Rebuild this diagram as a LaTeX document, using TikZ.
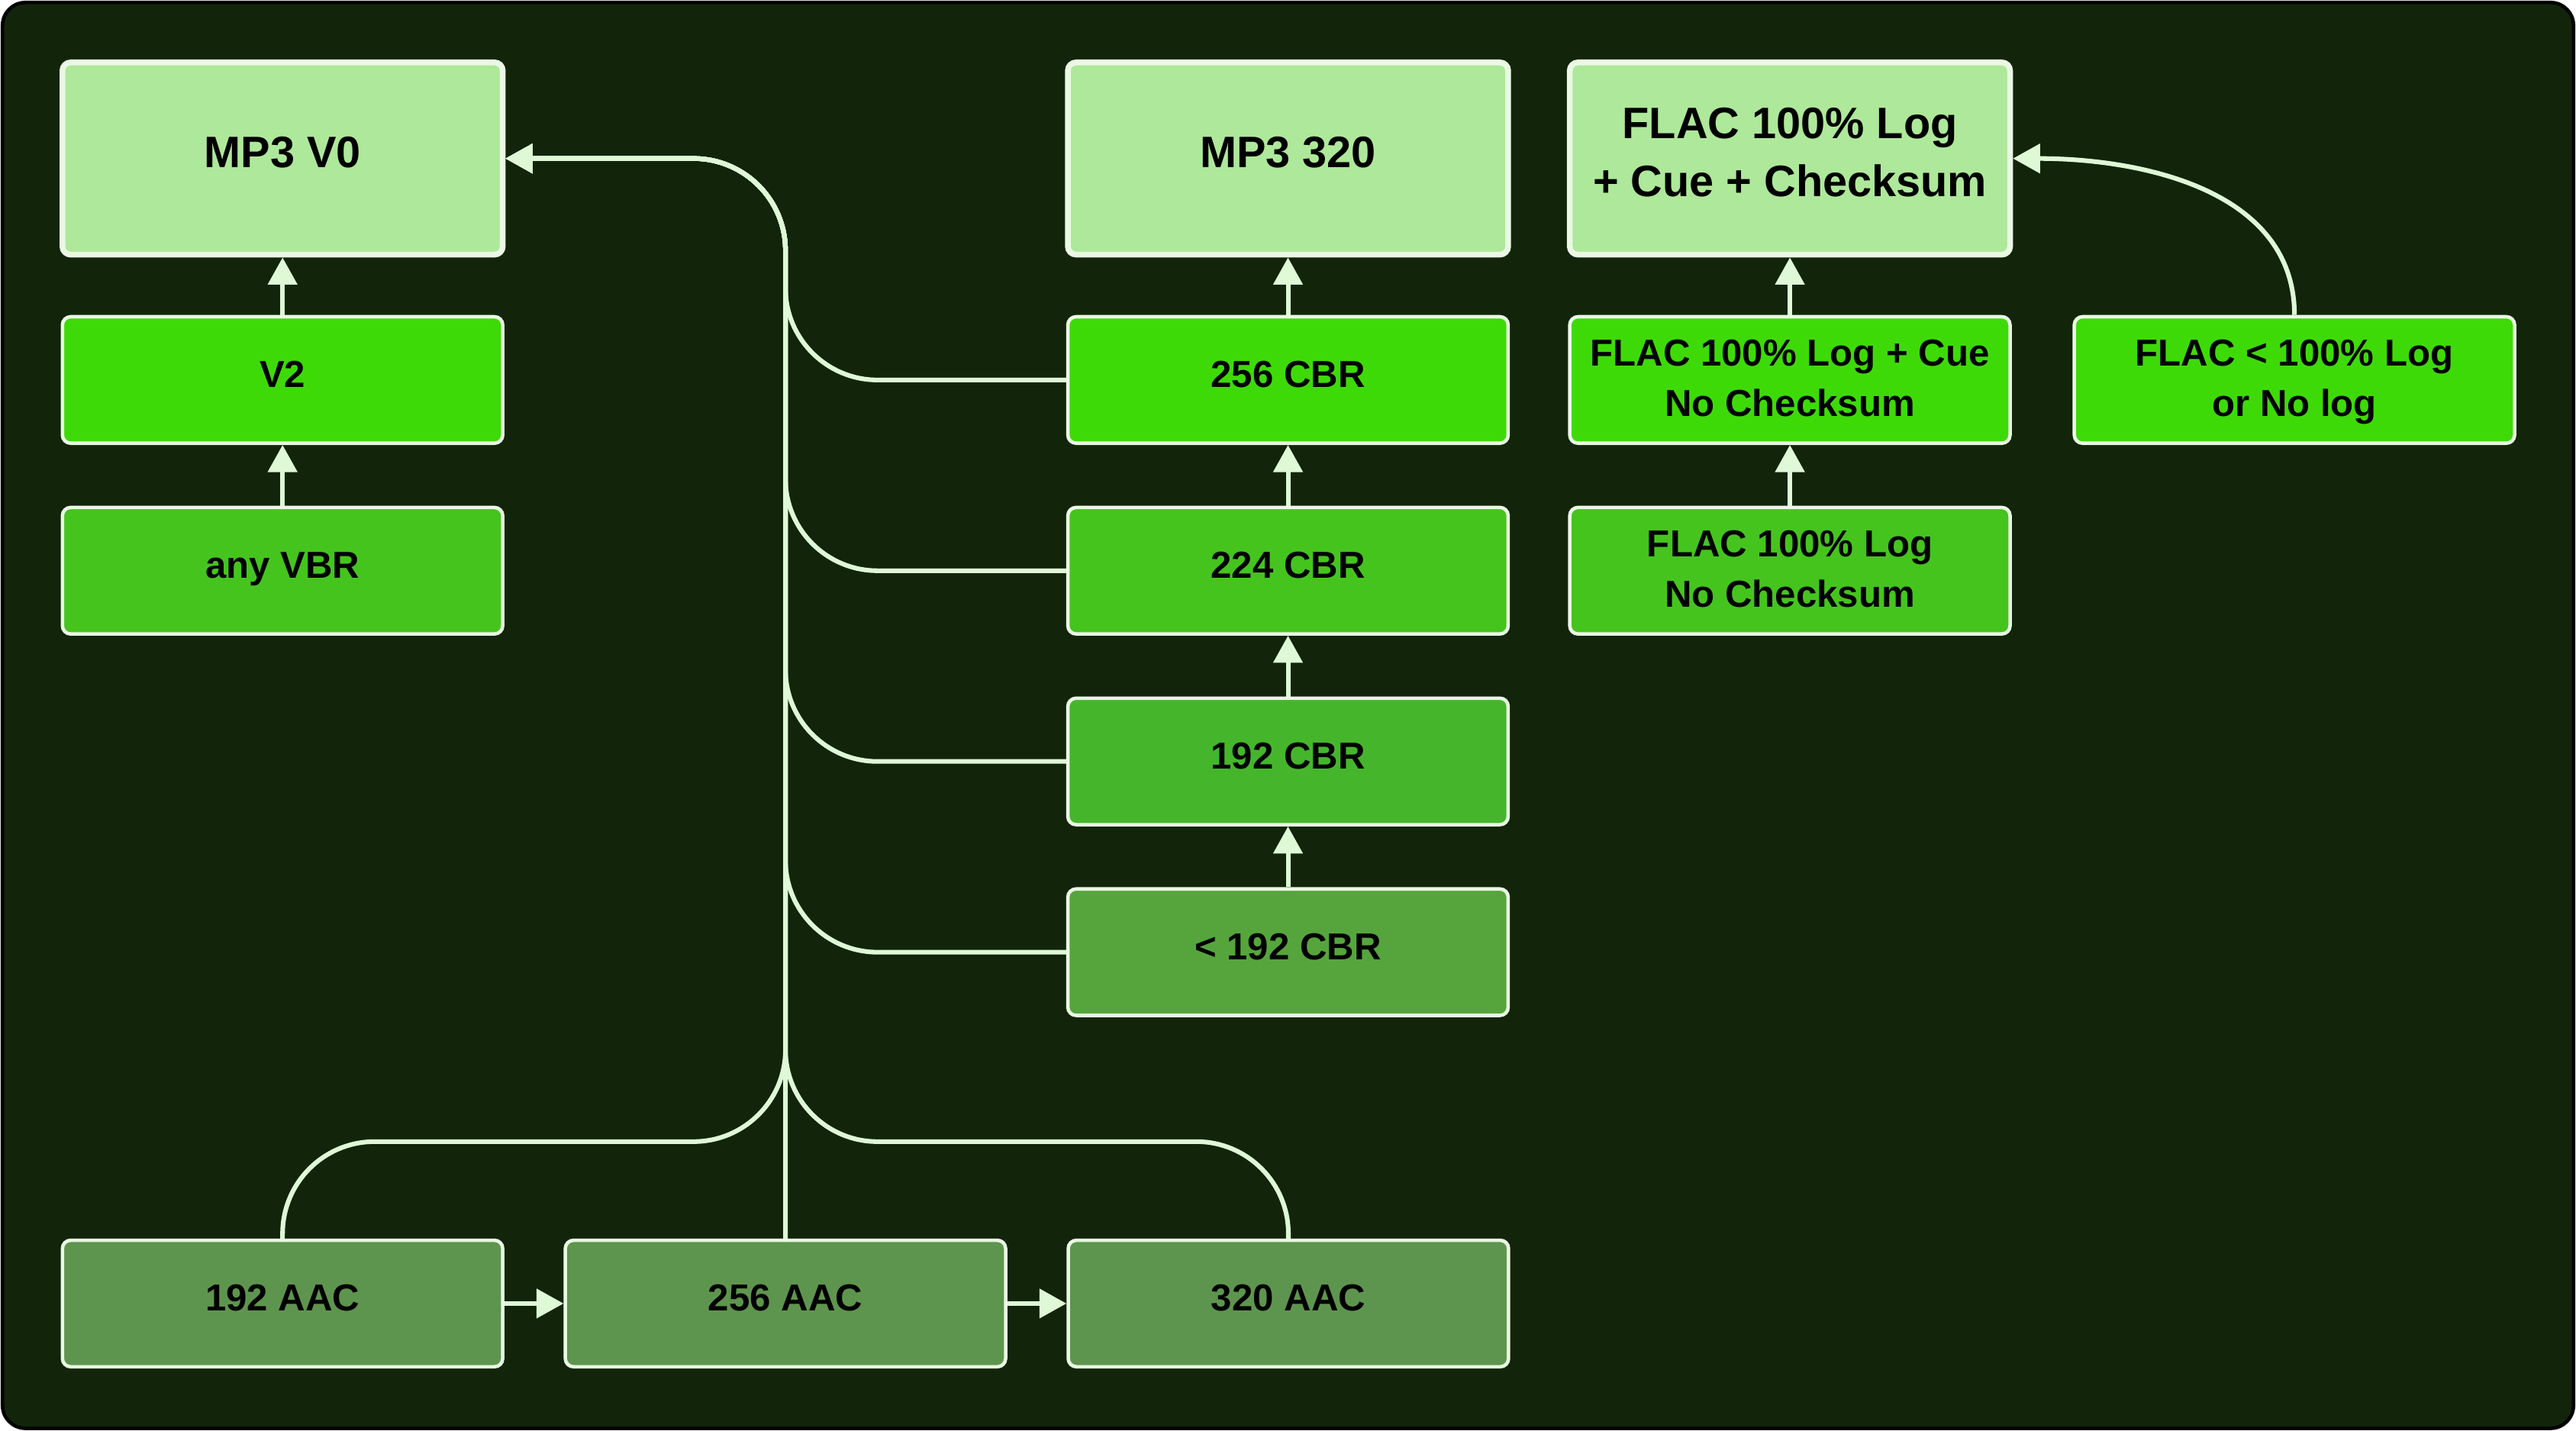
\documentclass[tikz,border=0pt]{standalone}
\usepackage{fontspec}
\setmainfont{Liberation Sans}
\usetikzlibrary{positioning,arrows.meta}
\definecolor{bgdark}{HTML}{12250B}
\definecolor{boxline}{HTML}{EAF8E4}
\definecolor{linkc}{HTML}{DFF8D6}
\definecolor{lightbox}{HTML}{AEE89A}
\definecolor{gbright}{HTML}{3EDA08}
\definecolor{gmid}{HTML}{45C41E}
\definecolor{gdim}{HTML}{45B62C}
\definecolor{glow}{HTML}{56A53C}
\definecolor{gaac}{HTML}{5E954E}
\begin{document}
\begin{tikzpicture}[
  node distance=0.74cm and 0.72cm,
  box/.style={rectangle, rounded corners=0.1cm, draw=boxline, text=black, align=center, minimum width=5.36cm},
  fmt/.style={box, fill=lightbox, line width=2pt, minimum height=2.34cm, text depth=4.5pt, font=\fontsize{15.25}{20}\selectfont\bfseries},
  alt/.style={box, fill=#1, line width=1.2pt, minimum height=1.54cm, text depth=4pt, font=\fontsize{13}{17.5}\selectfont\bfseries},
  twoline/.style={text depth=1.5pt},
  up/.style={draw=linkc, line width=1.6pt, -{Triangle[length=0.33cm,width=0.35cm]}},
  link/.style={up, rounded corners=1.12cm}
]
  \useasboundingbox (0,0) rectangle (31.36,-17.42);
  \fill[white] (0,0) rectangle (31.36,-17.42);
  \draw[black, line width=1.2pt, fill=bgdark, rounded corners=0.28cm] (0.03,-0.03) rectangle (31.33,-17.39);
  % target formats
  \node[fmt] (mp3v0) at (3.44,-1.93) {MP3 V0};
  \node[fmt] (mp3320) at (15.68,-1.93) {MP3 320};
  \node[fmt] (flactop) at (21.79,-1.93) {FLAC 100\% Log\\+ Cue + Checksum};
  % vbr column
  \node[alt=gbright, below=0.70cm of mp3v0] (v2) {V2};
  \node[alt=gmid, below=of v2] (anyvbr) {any VBR};
  % cbr column
  \node[alt=gbright, below=0.70cm of mp3320] (cbr256) {256 CBR};
  \node[alt=gmid, below=of cbr256] (cbr224) {224 CBR};
  \node[alt=gdim, below=of cbr224] (cbr192) {192 CBR};
  \node[alt=glow, below=of cbr192] (cbrlow) {< 192 CBR};
  % flac column
  \node[alt=gbright, twoline, below=0.70cm of flactop] (flaccue) {FLAC 100\% Log + Cue\\No Checksum};
  \node[alt=gmid, twoline, below=of flaccue] (flaclog) {FLAC 100\% Log\\No Checksum};
  \node[alt=gbright, twoline, right=0.74cm of flaccue] (flacnolog) {FLAC < 100\% Log\\or No log};
  % aac row
  \node[alt=gaac] (aac192) at (3.44,-15.87) {192 AAC};
  \node[alt=gaac, right=of aac192] (aac256) {256 AAC};
  \node[alt=gaac, right=of aac256] (aac320) {320 AAC};
  % trunk towards MP3 V0
  \coordinate (top) at (aac256.north |- mp3v0.east);
  \coordinate (hub) at ([yshift=1.18cm]aac256.north);
  \draw[up] (v2.north) -- (mp3v0.south);
  \draw[up] (anyvbr.north) -- (v2.south);
  \draw[up] (cbr256.north) -- (mp3320.south);
  \draw[up] (cbr224.north) -- (cbr256.south);
  \draw[up] (cbr192.north) -- (cbr224.south);
  \draw[up] (cbrlow.north) -- (cbr192.south);
  \draw[up] (flaccue.north) -- (flactop.south);
  \draw[up] (flaclog.north) -- (flaccue.south);
  \draw[up] (flacnolog.north) to[out=90, in=0] (flactop.east);
  \draw[up] (aac192.east) -- (aac256.west);
  \draw[up] (aac256.east) -- (aac320.west);
  \draw[link] (cbr256.west) -| (top) -- (mp3v0.east);
  \draw[link] (cbr224.west) -| (top) -- (mp3v0.east);
  \draw[link] (cbr192.west) -| (top) -- (mp3v0.east);
  \draw[link] (cbrlow.west) -| (top) -- (mp3v0.east);
  \draw[link] (aac192.north) |- (hub) -- (top) -- (mp3v0.east);
  \draw[link] (aac256.north) -- (top) -- (mp3v0.east);
  \draw[link] (aac320.north) |- (hub) -- (top) -- (mp3v0.east);
\end{tikzpicture}
\end{document}
